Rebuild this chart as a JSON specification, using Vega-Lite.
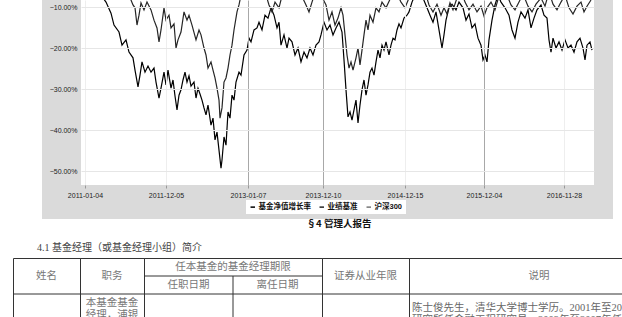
{
"$schema": "https://vega.github.io/schema/vega-lite/v6.json",
"background": "white",
"padding": {"left": 12, "top": 0, "right": 0, "bottom": 0},
"bounds": "full",
"spacing": 0,
"resolve": {"scale": {"x": "independent", "y": "independent", "color": "independent"}},
"config": {"view": {"stroke": null}, "font": "Liberation Sans, Noto Sans CJK SC"},
"vconcat": [
{
"hconcat": [
{"width": 68, "height": 185, "data": {"values": []}, "mark": "point"},
{
"width": 513, "height": 185,
"layer": [
{"data": {"values": [{}]}, "mark": {"type": "rect", "color": "#dadada"},
 "encoding": {
  "x": {"datum": -117, "type": "quantitative", "scale": {"domain": [0, 1539], "nice": false, "zero": false},
   "axis": {"title": null, "values": [12, 255, 501, 726, 972, 1209, 1449],
    "labelExpr": "['2011-01-04','2011-12-05','2013-01-07','2013-12-10','2014-12-15','2015-12-04','2016-11-28'][indexof([12,255,501,726,972,1209,1449], datum.value)]",
    "domain": false, "ticks": true, "tickSize": 3, "tickColor": "#999", "labelFontSize": 7, "labelColor": "#222", "labelPadding": 3, "labelFlush": false,
    "grid": true, "gridColor": {"condition": {"test": "datum.value == 501 || datum.value == 726 || datum.value == 1209", "value": "#a8a8a8"}, "value": "#eeeeee"}, "zindex": 1}},
  "x2": {"datum": 1596},
  "y": {"datum": -8.29, "type": "quantitative", "scale": {"domain": [-53.41, -8.29], "nice": false, "zero": false},
   "axis": {"title": null, "values": [-10, -20, -30, -40, -50], "labelExpr": "format(datum.value, '.2f') + '%'",
    "domain": false, "ticks": false, "labelPadding": 4, "labelFontSize": 7, "labelColor": "#222", "grid": true, "gridColor": "#e6e6e6", "zindex": 1}},
  "y2": {"datum": -61.7}}},
{"data": {"values": [{}]}, "mark": {"type": "rect", "color": "#ffffff"},
 "encoding": {
  "x": {"datum": 0, "type": "quantitative", "scale": {"domain": [0, 1539], "nice": false, "zero": false},
   "axis": {"title": null, "values": [12, 255, 501, 726, 972, 1209, 1449],
    "labelExpr": "['2011-01-04','2011-12-05','2013-01-07','2013-12-10','2014-12-15','2015-12-04','2016-11-28'][indexof([12,255,501,726,972,1209,1449], datum.value)]",
    "domain": false, "ticks": true, "tickSize": 3, "tickColor": "#999", "labelFontSize": 7, "labelColor": "#222", "labelPadding": 3, "labelFlush": false,
    "grid": true, "gridColor": {"condition": {"test": "datum.value == 501 || datum.value == 726 || datum.value == 1209", "value": "#a8a8a8"}, "value": "#eeeeee"}, "zindex": 1}},
  "x2": {"datum": 1539},
  "y": {"datum": -8.29, "type": "quantitative", "scale": {"domain": [-53.41, -8.29], "nice": false, "zero": false},
   "axis": {"title": null, "values": [-10, -20, -30, -40, -50], "labelExpr": "format(datum.value, '.2f') + '%'",
    "domain": false, "ticks": false, "labelPadding": 4, "labelFontSize": 7, "labelColor": "#222", "grid": true, "gridColor": "#e6e6e6", "zindex": 1}},
  "y2": {"datum": -53.41}}},
{"data": {"values": [
{"series":"基金净值增长率","day":0,"pct":0.0},{"series":"基金净值增长率","day":30,"pct":-3.4},{"series":"基金净值增长率","day":60,"pct":-7.1},{"series":"基金净值增长率","day":75,"pct":-8.8},{"series":"基金净值增长率","day":90,"pct":-11.5},{"series":"基金净值增长率","day":99,"pct":-14.4},{"series":"基金净值增长率","day":114,"pct":-16.1},{"series":"基金净值增长率","day":123,"pct":-19.3},{"series":"基金净值增长率","day":135,"pct":-18.0},{"series":"基金净值增长率","day":144,"pct":-21.0},{"series":"基金净值增长率","day":156,"pct":-22.4},{"series":"基金净值增长率","day":162,"pct":-25.4},{"series":"基金净值增长率","day":171,"pct":-29.5},{"series":"基金净值增长率","day":177,"pct":-26.6},{"series":"基金净值增长率","day":183,"pct":-23.4},{"series":"基金净值增长率","day":192,"pct":-25.9},{"series":"基金净值增长率","day":201,"pct":-24.4},{"series":"基金净值增长率","day":210,"pct":-25.9},{"series":"基金净值增长率","day":219,"pct":-24.9},{"series":"基金净值增长率","day":225,"pct":-28.3},{"series":"基金净值增长率","day":234,"pct":-32.2},{"series":"基金净值增长率","day":240,"pct":-29.8},{"series":"基金净值增长率","day":249,"pct":-25.9},{"series":"基金净值增长率","day":255,"pct":-29.0},{"series":"基金净值增长率","day":261,"pct":-25.4},{"series":"基金净值增长率","day":270,"pct":-29.8},{"series":"基金净值增长率","day":276,"pct":-27.8},{"series":"基金净值增长率","day":282,"pct":-31.7},{"series":"基金净值增长率","day":288,"pct":-35.1},{"series":"基金净值增长率","day":294,"pct":-31.5},{"series":"基金净值增长率","day":300,"pct":-30.2},{"series":"基金净值增长率","day":306,"pct":-27.8},{"series":"基金净值增长率","day":312,"pct":-25.9},{"series":"基金净值增长率","day":318,"pct":-28.3},{"series":"基金净值增长率","day":324,"pct":-26.8},{"series":"基金净值增长率","day":330,"pct":-29.3},{"series":"基金净值增长率","day":339,"pct":-28.3},{"series":"基金净值增长率","day":345,"pct":-32.2},{"series":"基金净值增长率","day":351,"pct":-29.8},{"series":"基金净值增长率","day":357,"pct":-31.2},{"series":"基金净值增长率","day":363,"pct":-32.7},{"series":"基金净值增长率","day":369,"pct":-34.6},{"series":"基金净值增长率","day":375,"pct":-36.3},{"series":"基金净值增长率","day":381,"pct":-33.9},{"series":"基金净值增长率","day":390,"pct":-38.8},{"series":"基金净值增长率","day":396,"pct":-37.1},{"series":"基金净值增长率","day":402,"pct":-42.4},{"series":"基金净值增长率","day":408,"pct":-40.5},{"series":"基金净值增长率","day":414,"pct":-44.9},{"series":"基金净值增长率","day":420,"pct":-49.3},{"series":"基金净值增长率","day":423,"pct":-47.3},{"series":"基金净值增长率","day":429,"pct":-41.7},{"series":"基金净值增长率","day":435,"pct":-43.7},{"series":"基金净值增长率","day":441,"pct":-35.6},{"series":"基金净值增长率","day":447,"pct":-37.1},{"series":"基金净值增长率","day":453,"pct":-31.5},{"series":"基金净值增长率","day":459,"pct":-32.7},{"series":"基金净值增长率","day":465,"pct":-28.3},{"series":"基金净值增长率","day":474,"pct":-25.9},{"series":"基金净值增长率","day":480,"pct":-26.6},{"series":"基金净值增长率","day":489,"pct":-21.7},{"series":"基金净值增长率","day":498,"pct":-20.5},{"series":"基金净值增长率","day":504,"pct":-17.6},{"series":"基金净值增长率","day":510,"pct":-18.5},{"series":"基金净值增长率","day":519,"pct":-15.6},{"series":"基金净值增长率","day":528,"pct":-15.1},{"series":"基金净值增长率","day":534,"pct":-13.7},{"series":"基金净值增长率","day":543,"pct":-15.6},{"series":"基金净值增长率","day":552,"pct":-12.0},{"series":"基金净值增长率","day":561,"pct":-12.7},{"series":"基金净值增长率","day":570,"pct":-10.2},{"series":"基金净值增长率","day":579,"pct":-12.0},{"series":"基金净值增长率","day":588,"pct":-15.1},{"series":"基金净值增长率","day":594,"pct":-13.7},{"series":"基金净值增长率","day":600,"pct":-19.3},{"series":"基金净值增长率","day":609,"pct":-16.8},{"series":"基金净值增长率","day":618,"pct":-20.0},{"series":"基金净值增长率","day":624,"pct":-17.6},{"series":"基金净值增长率","day":633,"pct":-18.5},{"series":"基金净值增长率","day":642,"pct":-21.7},{"series":"基金净值增长率","day":651,"pct":-20.0},{"series":"基金净值增长率","day":660,"pct":-23.4},{"series":"基金净值增长率","day":669,"pct":-21.0},{"series":"基金净值增长率","day":678,"pct":-22.4},{"series":"基金净值增长率","day":687,"pct":-20.0},{"series":"基金净值增长率","day":696,"pct":-21.7},{"series":"基金净值增长率","day":705,"pct":-19.3},{"series":"基金净值增长率","day":714,"pct":-18.5},{"series":"基金净值增长率","day":720,"pct":-16.8},{"series":"基金净值增长率","day":729,"pct":-13.7},{"series":"基金净值增长率","day":738,"pct":-15.6},{"series":"基金净值增长率","day":747,"pct":-14.4},{"series":"基金净值增长率","day":756,"pct":-16.8},{"series":"基金净值增长率","day":765,"pct":-15.1},{"series":"基金净值增长率","day":774,"pct":-13.7},{"series":"基金净值增长率","day":783,"pct":-16.1},{"series":"基金净值增长率","day":789,"pct":-22.9},{"series":"基金净值增长率","day":795,"pct":-30.2},{"series":"基金净值增长率","day":801,"pct":-36.8},{"series":"基金净值增长率","day":807,"pct":-35.6},{"series":"基金净值增长率","day":813,"pct":-37.6},{"series":"基金净值增长率","day":819,"pct":-35.1},{"series":"基金净值增长率","day":825,"pct":-32.7},{"series":"基金净值增长率","day":831,"pct":-38.3},{"series":"基金净值增长率","day":837,"pct":-33.9},{"series":"基金净值增长率","day":843,"pct":-30.2},{"series":"基金净值增长率","day":849,"pct":-27.8},{"series":"基金净值增长率","day":855,"pct":-31.5},{"series":"基金净值增长率","day":861,"pct":-29.0},{"series":"基金净值增长率","day":867,"pct":-25.9},{"series":"基金净值增长率","day":873,"pct":-24.9},{"series":"基金净值增长率","day":879,"pct":-26.6},{"series":"基金净值增长率","day":885,"pct":-23.4},{"series":"基金净值增长率","day":891,"pct":-20.5},{"series":"基金净值增长率","day":897,"pct":-22.4},{"series":"基金净值增长率","day":903,"pct":-19.3},{"series":"基金净值增长率","day":909,"pct":-20.5},{"series":"基金净值增长率","day":915,"pct":-18.5},{"series":"基金净值增长率","day":924,"pct":-21.7},{"series":"基金净值增长率","day":930,"pct":-19.3},{"series":"基金净值增长率","day":936,"pct":-17.6},{"series":"基金净值增长率","day":942,"pct":-18.0},{"series":"基金净值增长率","day":948,"pct":-15.6},{"series":"基金净值增长率","day":954,"pct":-14.1},{"series":"基金净值增长率","day":960,"pct":-15.1},{"series":"基金净值增长率","day":969,"pct":-12.7},{"series":"基金净值增长率","day":978,"pct":-12.0},{"series":"基金净值增长率","day":984,"pct":-11.2},{"series":"基金净值增长率","day":993,"pct":-8.8},{"series":"基金净值增长率","day":1002,"pct":-7.1},{"series":"基金净值增长率","day":1014,"pct":-5.9},{"series":"基金净值增长率","day":1026,"pct":-7.8},{"series":"基金净值增长率","day":1038,"pct":-10.2},{"series":"基金净值增长率","day":1047,"pct":-12.0},{"series":"基金净值增长率","day":1056,"pct":-13.7},{"series":"基金净值增长率","day":1065,"pct":-11.2},{"series":"基金净值增长率","day":1074,"pct":-15.6},{"series":"基金净值增长率","day":1083,"pct":-20.0},{"series":"基金净值增长率","day":1089,"pct":-16.8},{"series":"基金净值增长率","day":1095,"pct":-13.2},{"series":"基金净值增长率","day":1104,"pct":-10.2},{"series":"基金净值增长率","day":1113,"pct":-9.3},{"series":"基金净值增长率","day":1125,"pct":-10.7},{"series":"基金净值增长率","day":1134,"pct":-8.8},{"series":"基金净值增长率","day":1146,"pct":-10.2},{"series":"基金净值增长率","day":1155,"pct":-13.2},{"series":"基金净值增长率","day":1164,"pct":-11.7},{"series":"基金净值增长率","day":1173,"pct":-15.1},{"series":"基金净值增长率","day":1182,"pct":-14.1},{"series":"基金净值增长率","day":1191,"pct":-17.6},{"series":"基金净值增长率","day":1200,"pct":-19.3},{"series":"基金净值增长率","day":1206,"pct":-22.9},{"series":"基金净值增长率","day":1212,"pct":-21.7},{"series":"基金净值增长率","day":1218,"pct":-23.4},{"series":"基金净值增长率","day":1224,"pct":-18.0},{"series":"基金净值增长率","day":1233,"pct":-13.2},{"series":"基金净值增长率","day":1242,"pct":-9.5},{"series":"基金净值增长率","day":1251,"pct":-7.1},{"series":"基金净值增长率","day":1260,"pct":-8.8},{"series":"基金净值增长率","day":1272,"pct":-10.2},{"series":"基金净值增长率","day":1284,"pct":-12.0},{"series":"基金净值增长率","day":1293,"pct":-15.6},{"series":"基金净值增长率","day":1302,"pct":-17.6},{"series":"基金净值增长率","day":1311,"pct":-13.7},{"series":"基金净值增长率","day":1320,"pct":-11.2},{"series":"基金净值增长率","day":1332,"pct":-12.7},{"series":"基金净值增长率","day":1341,"pct":-10.7},{"series":"基金净值增长率","day":1350,"pct":-15.1},{"series":"基金净值增长率","day":1359,"pct":-12.7},{"series":"基金净值增长率","day":1368,"pct":-10.7},{"series":"基金净值增长率","day":1380,"pct":-9.5},{"series":"基金净值增长率","day":1389,"pct":-12.0},{"series":"基金净值增长率","day":1398,"pct":-12.7},{"series":"基金净值增长率","day":1404,"pct":-18.0},{"series":"基金净值增长率","day":1410,"pct":-21.0},{"series":"基金净值增长率","day":1416,"pct":-17.6},{"series":"基金净值增长率","day":1425,"pct":-20.0},{"series":"基金净值增长率","day":1434,"pct":-18.5},{"series":"基金净值增长率","day":1443,"pct":-20.5},{"series":"基金净值增长率","day":1452,"pct":-18.0},{"series":"基金净值增长率","day":1461,"pct":-20.0},{"series":"基金净值增长率","day":1470,"pct":-19.3},{"series":"基金净值增长率","day":1479,"pct":-21.0},{"series":"基金净值增长率","day":1488,"pct":-18.5},{"series":"基金净值增长率","day":1497,"pct":-17.6},{"series":"基金净值增长率","day":1506,"pct":-20.0},{"series":"基金净值增长率","day":1512,"pct":-22.9},{"series":"基金净值增长率","day":1518,"pct":-19.3},{"series":"基金净值增长率","day":1527,"pct":-18.5},{"series":"基金净值增长率","day":1533,"pct":-20.5},
{"series":"业绩基准","day":0,"pct":0.0},{"series":"业绩基准","day":30,"pct":2.7},{"series":"业绩基准","day":60,"pct":3.9},{"series":"业绩基准","day":90,"pct":-1.0},{"series":"业绩基准","day":120,"pct":-3.4},{"series":"业绩基准","day":144,"pct":-7.1},{"series":"业绩基准","day":156,"pct":-9.5},{"series":"业绩基准","day":162,"pct":-10.2},{"series":"业绩基准","day":168,"pct":-14.4},{"series":"业绩基准","day":174,"pct":-12.0},{"series":"业绩基准","day":180,"pct":-9.0},{"series":"业绩基准","day":189,"pct":-10.7},{"series":"业绩基准","day":198,"pct":-8.8},{"series":"业绩基准","day":210,"pct":-10.7},{"series":"业绩基准","day":219,"pct":-13.2},{"series":"业绩基准","day":228,"pct":-15.1},{"series":"业绩基准","day":234,"pct":-18.5},{"series":"业绩基准","day":240,"pct":-15.6},{"series":"业绩基准","day":249,"pct":-10.2},{"series":"业绩基准","day":255,"pct":-13.2},{"series":"业绩基准","day":264,"pct":-12.0},{"series":"业绩基准","day":270,"pct":-15.1},{"series":"业绩基准","day":279,"pct":-14.1},{"series":"业绩基准","day":285,"pct":-20.0},{"series":"业绩基准","day":291,"pct":-18.0},{"series":"业绩基准","day":300,"pct":-16.1},{"series":"业绩基准","day":309,"pct":-11.2},{"series":"业绩基准","day":318,"pct":-13.2},{"series":"业绩基准","day":324,"pct":-12.0},{"series":"业绩基准","day":333,"pct":-14.4},{"series":"业绩基准","day":345,"pct":-18.0},{"series":"业绩基准","day":354,"pct":-15.6},{"series":"业绩基准","day":360,"pct":-16.8},{"series":"业绩基准","day":369,"pct":-20.0},{"series":"业绩基准","day":375,"pct":-21.7},{"series":"业绩基准","day":381,"pct":-24.9},{"series":"业绩基准","day":390,"pct":-23.4},{"series":"业绩基准","day":396,"pct":-25.4},{"series":"业绩基准","day":402,"pct":-27.3},{"series":"业绩基准","day":408,"pct":-29.8},{"series":"业绩基准","day":414,"pct":-32.7},{"series":"业绩基准","day":417,"pct":-37.1},{"series":"业绩基准","day":423,"pct":-34.6},{"series":"业绩基准","day":429,"pct":-28.3},{"series":"业绩基准","day":435,"pct":-27.3},{"series":"业绩基准","day":441,"pct":-24.9},{"series":"业绩基准","day":447,"pct":-21.7},{"series":"业绩基准","day":453,"pct":-19.3},{"series":"业绩基准","day":459,"pct":-15.6},{"series":"业绩基准","day":468,"pct":-11.2},{"series":"业绩基准","day":474,"pct":-9.5},{"series":"业绩基准","day":480,"pct":-7.1},{"series":"业绩基准","day":495,"pct":-4.6},{"series":"业绩基准","day":510,"pct":-3.4},{"series":"业绩基准","day":525,"pct":-2.2},{"series":"业绩基准","day":540,"pct":-3.9},{"series":"业绩基准","day":555,"pct":-7.1},{"series":"业绩基准","day":564,"pct":-9.5},{"series":"业绩基准","day":573,"pct":-11.2},{"series":"业绩基准","day":582,"pct":-8.8},{"series":"业绩基准","day":594,"pct":-10.2},{"series":"业绩基准","day":606,"pct":-6.3},{"series":"业绩基准","day":630,"pct":-4.6},{"series":"业绩基准","day":654,"pct":-5.9},{"series":"业绩基准","day":675,"pct":-9.5},{"series":"业绩基准","day":684,"pct":-11.2},{"series":"业绩基准","day":693,"pct":-8.8},{"series":"业绩基准","day":705,"pct":-5.9},{"series":"业绩基准","day":720,"pct":-7.1},{"series":"业绩基准","day":735,"pct":-9.5},{"series":"业绩基准","day":744,"pct":-13.2},{"series":"业绩基准","day":753,"pct":-11.2},{"series":"业绩基准","day":762,"pct":-14.4},{"series":"业绩基准","day":771,"pct":-12.7},{"series":"业绩基准","day":780,"pct":-10.2},{"series":"业绩基准","day":786,"pct":-12.0},{"series":"业绩基准","day":792,"pct":-16.8},{"series":"业绩基准","day":798,"pct":-21.7},{"series":"业绩基准","day":804,"pct":-24.9},{"series":"业绩基准","day":810,"pct":-23.4},{"series":"业绩基准","day":816,"pct":-25.4},{"series":"业绩基准","day":825,"pct":-22.4},{"series":"业绩基准","day":831,"pct":-20.0},{"series":"业绩基准","day":837,"pct":-24.1},{"series":"业绩基准","day":843,"pct":-20.5},{"series":"业绩基准","day":849,"pct":-16.8},{"series":"业绩基准","day":855,"pct":-13.2},{"series":"业绩基准","day":861,"pct":-15.6},{"series":"业绩基准","day":867,"pct":-12.0},{"series":"业绩基准","day":876,"pct":-13.7},{"series":"业绩基准","day":885,"pct":-10.2},{"series":"业绩基准","day":894,"pct":-11.2},{"series":"业绩基准","day":903,"pct":-8.8},{"series":"业绩基准","day":915,"pct":-10.2},{"series":"业绩基准","day":930,"pct":-7.6},{"series":"业绩基准","day":945,"pct":-6.3},{"series":"业绩基准","day":960,"pct":-8.8},{"series":"业绩基准","day":972,"pct":-10.2},{"series":"业绩基准","day":984,"pct":-7.8},{"series":"业绩基准","day":996,"pct":-5.9},{"series":"业绩基准","day":1014,"pct":-4.6},{"series":"业绩基准","day":1032,"pct":-6.3},{"series":"业绩基准","day":1044,"pct":-9.5},{"series":"业绩基准","day":1056,"pct":-11.2},{"series":"业绩基准","day":1068,"pct":-9.3},{"series":"业绩基准","day":1080,"pct":-12.0},{"series":"业绩基准","day":1089,"pct":-10.2},{"series":"业绩基准","day":1098,"pct":-11.7},{"series":"业绩基准","day":1107,"pct":-9.0},{"series":"业绩基准","day":1116,"pct":-10.7},{"series":"业绩基准","day":1128,"pct":-7.8},{"series":"业绩基准","day":1140,"pct":-5.9},{"series":"业绩基准","day":1152,"pct":-8.8},{"series":"业绩基准","day":1164,"pct":-10.7},{"series":"业绩基准","day":1176,"pct":-9.3},{"series":"业绩基准","day":1188,"pct":-11.2},{"series":"业绩基准","day":1200,"pct":-9.8},{"series":"业绩基准","day":1209,"pct":-12.2},{"series":"业绩基准","day":1218,"pct":-10.2},{"series":"业绩基准","day":1230,"pct":-8.8},{"series":"业绩基准","day":1242,"pct":-10.7},{"series":"业绩基准","day":1254,"pct":-7.3},{"series":"业绩基准","day":1272,"pct":-5.9},{"series":"业绩基准","day":1290,"pct":-9.5},{"series":"业绩基准","day":1302,"pct":-10.7},{"series":"业绩基准","day":1314,"pct":-8.8},{"series":"业绩基准","day":1326,"pct":-6.8},{"series":"业绩基准","day":1341,"pct":-9.8},{"series":"业绩基准","day":1353,"pct":-11.2},{"series":"业绩基准","day":1365,"pct":-9.3},{"series":"业绩基准","day":1380,"pct":-7.8},{"series":"业绩基准","day":1392,"pct":-9.8},{"series":"业绩基准","day":1404,"pct":-6.3},{"series":"业绩基准","day":1416,"pct":-9.3},{"series":"业绩基准","day":1428,"pct":-10.7},{"series":"业绩基准","day":1440,"pct":-8.8},{"series":"业绩基准","day":1452,"pct":-7.1},{"series":"业绩基准","day":1464,"pct":-10.2},{"series":"业绩基准","day":1476,"pct":-11.7},{"series":"业绩基准","day":1488,"pct":-9.8},{"series":"业绩基准","day":1500,"pct":-8.8},{"series":"业绩基准","day":1509,"pct":-11.2},{"series":"业绩基准","day":1518,"pct":-9.8},{"series":"业绩基准","day":1530,"pct":-8.3}
]},
 "mark": {"type": "line", "clip": true, "strokeWidth": 1.2},
 "encoding": {
  "x": {"field": "day", "type": "quantitative", "scale": {"domain": [0, 1539], "nice": false, "zero": false},
   "axis": {"title": null, "values": [12, 255, 501, 726, 972, 1209, 1449],
    "labelExpr": "['2011-01-04','2011-12-05','2013-01-07','2013-12-10','2014-12-15','2015-12-04','2016-11-28'][indexof([12,255,501,726,972,1209,1449], datum.value)]",
    "domain": false, "ticks": true, "tickSize": 3, "tickColor": "#999", "labelFontSize": 7, "labelColor": "#222", "labelPadding": 3, "labelFlush": false,
    "grid": true, "gridColor": {"condition": {"test": "datum.value == 501 || datum.value == 726 || datum.value == 1209", "value": "#a8a8a8"}, "value": "#eeeeee"}, "zindex": 1}},
  "y": {"field": "pct", "type": "quantitative", "scale": {"domain": [-53.41, -8.29], "nice": false, "zero": false},
   "axis": {"title": null, "values": [-10, -20, -30, -40, -50], "labelExpr": "format(datum.value, '.2f') + '%'",
    "domain": false, "ticks": false, "labelPadding": 4, "labelFontSize": 7, "labelColor": "#222", "grid": true, "gridColor": "#e6e6e6", "zindex": 1}},
  "color": {"field": "series", "type": "nominal",
   "scale": {"domain": ["基金净值增长率", "业绩基准", "沪深300"], "range": ["#000000", "#262626", "#777777"]},
   "legend": {"orient": "none", "legendX": 165, "legendY": 200, "direction": "horizontal", "title": null, "fillColor": "#ffffff", "padding": 3,
    "labelFontSize": 7.5, "labelFontWeight": "bold", "labelColor": "#111", "labelOffset": 2, "symbolType": "stroke", "symbolSize": 20, "symbolStrokeWidth": 1.5, "columnPadding": 5}}
 }}
]
}
],
"spacing": 0, "bounds": "flush",
"resolve": {"scale": {"x": "independent", "y": "independent", "color": "independent"}}
},
{
"title": {"text": "§4  管理人报告", "anchor": "middle", "dx": -36, "fontSize": 9.5, "fontWeight": "bold", "font": "Noto Sans CJK SC", "color": "#111", "offset": 14},
"vconcat": [
{
"title": {"text": "4.1 基金经理（或基金经理小组）简介", "anchor": "start", "dx": 25, "fontSize": 10, "fontWeight": "normal", "font": "Liberation Serif, Noto Sans CJK SC", "color": "#444", "offset": 5},
"spacing": 0, "bounds": "flush",
"resolve": {"scale": {"x": "independent", "y": "independent"}},
"hconcat": [
{
"width": 67, "height": 90, "view": {"stroke": "#333"},
"layer": [
{"data": {"values": [{"text": "姓名", "slot": "r2"}]},
 "mark": {"type": "text", "fontSize": 10.5, "color": "#777", "baseline": "middle", "font": "Noto Sans CJK SC"},
 "encoding": {"y": {"field": "slot", "type": "ordinal", "bandPosition": 0, "scale": {"type": "band", "domain": ["r0","r1","r2","r3","r4","r5","r6","r7","r8","r9"], "paddingInner": 0, "paddingOuter": 0}, "axis": null}, "text": {"field": "text"}}},
{"data": {"values": [{"slot": "r4"}]},
 "mark": {"type": "rule", "color": "#333"},
 "encoding": {"y": {"field": "slot", "type": "ordinal", "bandPosition": 0, "scale": {"type": "band", "domain": ["r0","r1","r2","r3","r4","r5","r6","r7","r8","r9"], "paddingInner": 0, "paddingOuter": 0}, "axis": null}}}
]
},
{
"width": 64, "height": 90, "view": {"stroke": "#333"},
"layer": [
{"data": {"values": [{"text": "职务", "slot": "r2"}]},
 "mark": {"type": "text", "fontSize": 10.5, "color": "#777", "baseline": "middle", "font": "Noto Sans CJK SC"},
 "encoding": {"y": {"field": "slot", "type": "ordinal", "bandPosition": 0, "scale": {"type": "band", "domain": ["r0","r1","r2","r3","r4","r5","r6","r7","r8","r9"], "paddingInner": 0, "paddingOuter": 0}, "axis": null}, "text": {"field": "text"}}},
{"data": {"values": [{"lines": ["本基金基金", "经理，浦银", "安盛沪深300", "指数增强"], "slot": "r4"}]},
 "mark": {"type": "text", "fontSize": 10.5, "color": "#777", "baseline": "top", "lineHeight": 11.5, "dy": 4, "font": "Liberation Serif, Noto Sans CJK SC"},
 "encoding": {"y": {"field": "slot", "type": "ordinal", "bandPosition": 0, "scale": {"type": "band", "domain": ["r0","r1","r2","r3","r4","r5","r6","r7","r8","r9"], "paddingInner": 0, "paddingOuter": 0}, "axis": null}, "text": {"field": "lines"}}},
{"data": {"values": [{"slot": "r4"}]},
 "mark": {"type": "rule", "color": "#333"},
 "encoding": {"y": {"field": "slot", "type": "ordinal", "bandPosition": 0, "scale": {"type": "band", "domain": ["r0","r1","r2","r3","r4","r5","r6","r7","r8","r9"], "paddingInner": 0, "paddingOuter": 0}, "axis": null}}}
]
},
{
"width": 178, "height": 90, "view": {"stroke": "#333"},
"layer": [
{"data": {"values": [{"text": "任本基金的基金经理期限", "slot": "r1"}]},
 "mark": {"type": "text", "fontSize": 10.5, "color": "#777", "baseline": "middle", "font": "Noto Sans CJK SC"},
 "encoding": {"y": {"field": "slot", "type": "ordinal", "bandPosition": 0, "scale": {"type": "band", "domain": ["r0","r1","r2","r3","r4","r5","r6","r7","r8","r9"], "paddingInner": 0, "paddingOuter": 0}, "axis": null}, "text": {"field": "text"}}},
{"data": {"values": [{"text": "任职日期", "sub": "任职日期", "slot": "r3"}, {"text": "离任日期", "sub": "离任日期", "slot": "r3"}]},
 "mark": {"type": "text", "fontSize": 10.5, "color": "#777", "baseline": "middle", "font": "Noto Sans CJK SC"},
 "encoding": {"x": {"field": "sub", "type": "nominal", "scale": {"type": "band", "domain": ["任职日期", "离任日期"], "paddingInner": 0, "paddingOuter": 0}, "axis": null},
  "y": {"field": "slot", "type": "ordinal", "bandPosition": 0, "scale": {"type": "band", "domain": ["r0","r1","r2","r3","r4","r5","r6","r7","r8","r9"], "paddingInner": 0, "paddingOuter": 0}, "axis": null}, "text": {"field": "text"}}},
{"data": {"values": [{"slot": "r2"}, {"slot": "r4"}]},
 "mark": {"type": "rule", "color": "#333"},
 "encoding": {"y": {"field": "slot", "type": "ordinal", "bandPosition": 0, "scale": {"type": "band", "domain": ["r0","r1","r2","r3","r4","r5","r6","r7","r8","r9"], "paddingInner": 0, "paddingOuter": 0}, "axis": null}}},
{"data": {"values": [{"sub": "离任日期", "slot": "r2", "slot2": "r9"}]},
 "mark": {"type": "rule", "color": "#333"},
 "encoding": {"x": {"field": "sub", "type": "nominal", "bandPosition": 0, "scale": {"type": "band", "domain": ["任职日期", "离任日期"], "paddingInner": 0, "paddingOuter": 0}, "axis": null},
  "y": {"field": "slot", "type": "ordinal", "bandPosition": 0, "scale": {"type": "band", "domain": ["r0","r1","r2","r3","r4","r5","r6","r7","r8","r9"], "paddingInner": 0, "paddingOuter": 0}, "axis": null},
  "y2": {"field": "slot2"}}}
]
},
{
"width": 87, "height": 90, "view": {"stroke": "#333"},
"layer": [
{"data": {"values": [{"text": "证券从业年限", "slot": "r2"}]},
 "mark": {"type": "text", "fontSize": 10.5, "color": "#777", "baseline": "middle", "font": "Noto Sans CJK SC"},
 "encoding": {"y": {"field": "slot", "type": "ordinal", "bandPosition": 0, "scale": {"type": "band", "domain": ["r0","r1","r2","r3","r4","r5","r6","r7","r8","r9"], "paddingInner": 0, "paddingOuter": 0}, "axis": null}, "text": {"field": "text"}}},
{"data": {"values": [{"slot": "r4"}]},
 "mark": {"type": "rule", "color": "#333"},
 "encoding": {"y": {"field": "slot", "type": "ordinal", "bandPosition": 0, "scale": {"type": "band", "domain": ["r0","r1","r2","r3","r4","r5","r6","r7","r8","r9"], "paddingInner": 0, "paddingOuter": 0}, "axis": null}}}
]
},
{
"width": 260, "height": 90, "view": {"stroke": "#333"},
"layer": [
{"data": {"values": [{"text": "说明", "slot": "r2"}]},
 "mark": {"type": "text", "fontSize": 10.5, "color": "#777", "baseline": "middle", "font": "Noto Sans CJK SC"},
 "encoding": {"y": {"field": "slot", "type": "ordinal", "bandPosition": 0, "scale": {"type": "band", "domain": ["r0","r1","r2","r3","r4","r5","r6","r7","r8","r9"], "paddingInner": 0, "paddingOuter": 0}, "axis": null}, "text": {"field": "text"}}},
{"data": {"values": [{"lines": ["陈士俊先生，清华大学博士学历。2001年至2003年在国泰君安证券公司", "研究所任金融工程研究员，2003年至2007年任职于中国人寿资产管理"], "col": "说明", "slot": "r4"}]},
 "mark": {"type": "text", "fontSize": 10.5, "color": "#666", "baseline": "top", "align": "left", "lineHeight": 11.5, "dy": 9, "dx": 3, "font": "Liberation Serif, Noto Sans CJK SC"},
 "encoding": {"x": {"field": "col", "type": "nominal", "bandPosition": 0, "scale": {"type": "band", "domain": ["说明"], "paddingInner": 0, "paddingOuter": 0}, "axis": null},
  "y": {"field": "slot", "type": "ordinal", "bandPosition": 0, "scale": {"type": "band", "domain": ["r0","r1","r2","r3","r4","r5","r6","r7","r8","r9"], "paddingInner": 0, "paddingOuter": 0}, "axis": null}, "text": {"field": "lines"}}},
{"data": {"values": [{"slot": "r4"}]},
 "mark": {"type": "rule", "color": "#333"},
 "encoding": {"y": {"field": "slot", "type": "ordinal", "bandPosition": 0, "scale": {"type": "band", "domain": ["r0","r1","r2","r3","r4","r5","r6","r7","r8","r9"], "paddingInner": 0, "paddingOuter": 0}, "axis": null}}}
]
}
]
}
]
}
]
}
